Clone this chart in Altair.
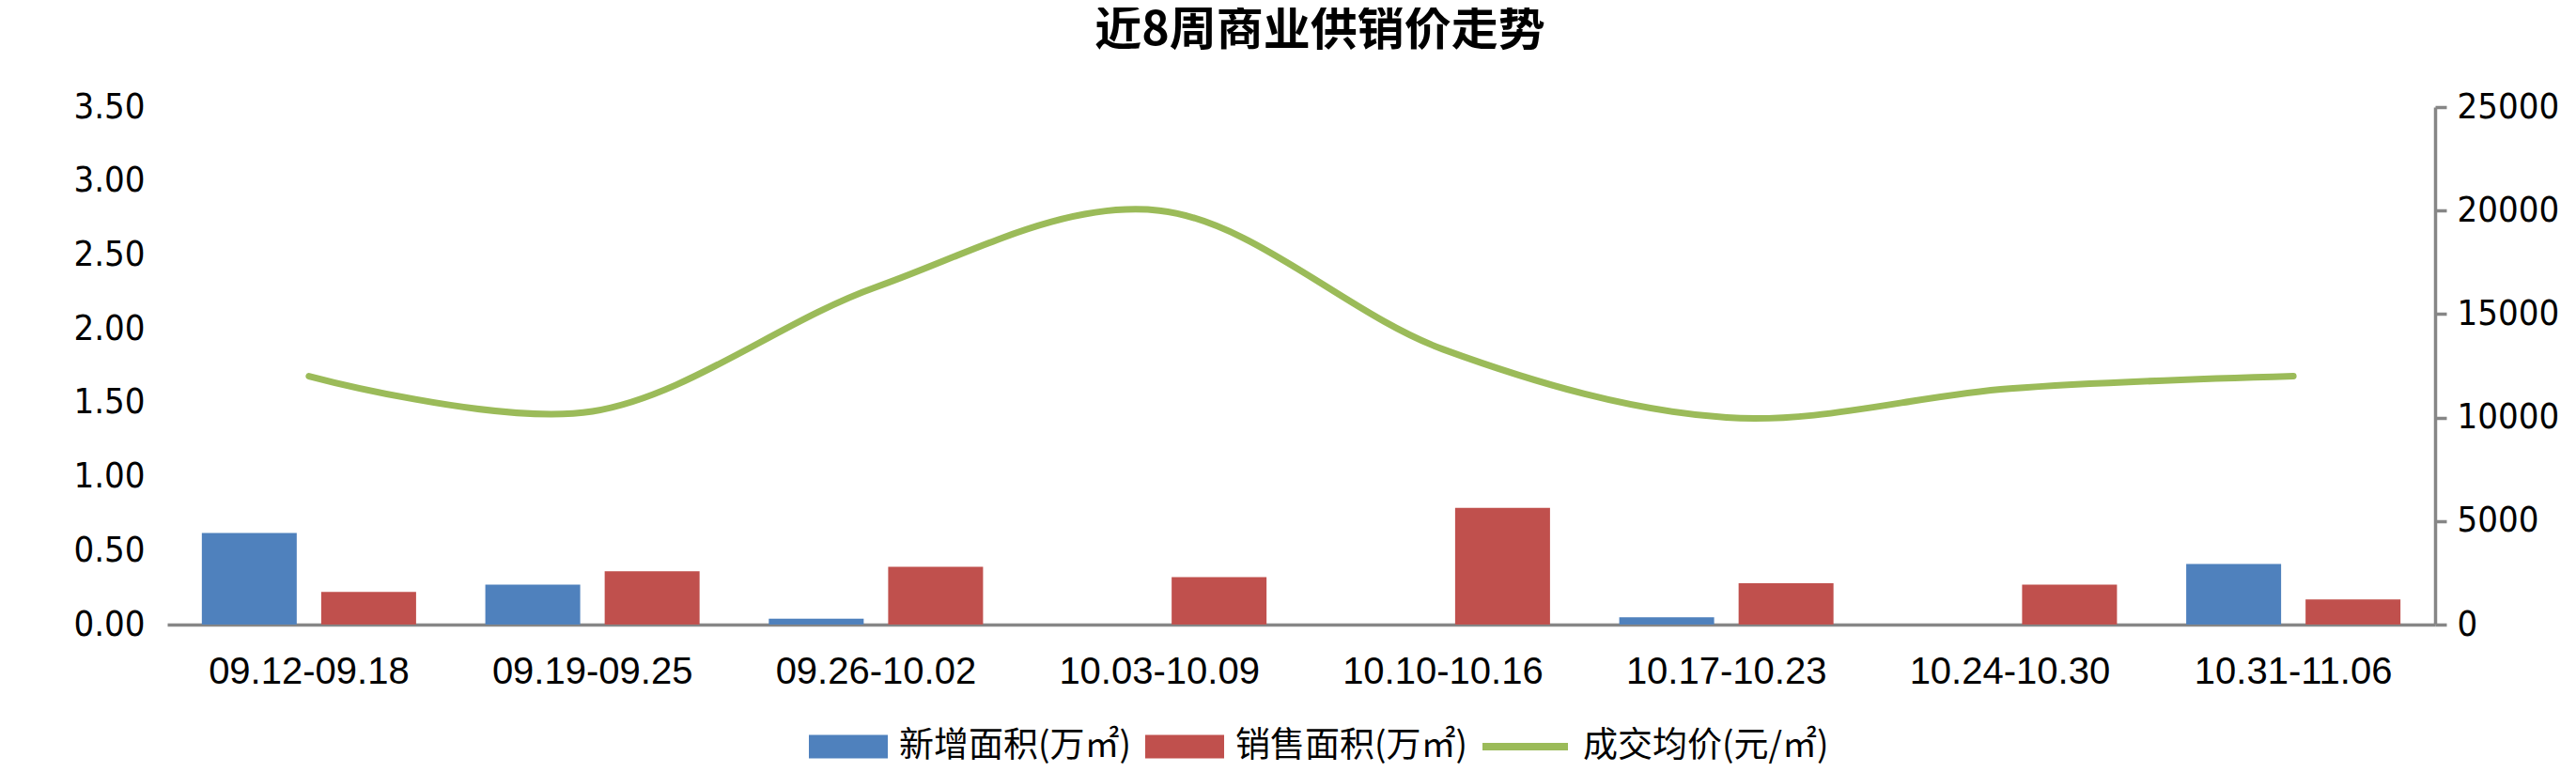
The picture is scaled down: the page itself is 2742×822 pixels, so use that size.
import altair as alt
import pandas as pd

weeks = ["09.12-09.18", "09.19-09.25", "09.26-10.02", "10.03-10.09",
         "10.10-10.16", "10.17-10.23", "10.24-10.30", "10.31-11.06"]
new_area = [0.62, 0.27, 0.04, 0.0, 0.0, 0.05, 0.0, 0.41]
sold_area = [0.22, 0.36, 0.39, 0.32, 0.79, 0.28, 0.27, 0.17]
avg_price = [12000, 10300, 16300, 20000, 13300, 10000, 11400, 12000]
series_names = ["新增面积(万㎡)", "销售面积(万㎡)", "成交均价(元/㎡)"]
left_ticks = [0, 0.5, 1.0, 1.5, 2.0, 2.5, 3.0, 3.5]
right_ticks = [0, 5000, 10000, 15000, 20000, 25000]
title_text = "近8周商业供销价走势"

bars_df = pd.DataFrame({
    "week": weeks * 2,
    "series": [series_names[0]] * len(weeks) + [series_names[1]] * len(weeks),
    "value": new_area + sold_area,
})
line_df = pd.DataFrame({"week": weeks, "series": [series_names[2]] * len(weeks), "price": avg_price})

num_font = "DejaVu Sans Condensed, DejaVu Sans"
cat_font = "Liberation Sans, Arial, sans-serif"
cjk_font = "Noto Sans CJK SC"
gray = "#868686"

x_enc = alt.X(
    "week:N", sort=weeks,
    scale=alt.Scale(paddingInner=0, paddingOuter=0),
    axis=alt.Axis(title=None, labelAngle=0, labelFont=cat_font, labelFontSize=40,
                  labelColor="black", ticks=False, tickSize=0, labelPadding=30,
                  labelLimit=400, domainColor=gray, domainWidth=3.5, grid=False),
)

bars = alt.Chart(bars_df).mark_bar().encode(
    x=x_enc,
    xOffset=alt.XOffset("series:N", sort=series_names[:2],
                        scale=alt.Scale(paddingInner=0.205, paddingOuter=0.29)),
    y=alt.Y("value:Q", scale=alt.Scale(domain=[0, 3.5], nice=False),
            axis=alt.Axis(values=left_ticks, format=".2f", title=None, domain=False,
                          ticks=False, tickSize=0, grid=False, labelPadding=24,
                          labelFont=num_font, labelFontSize=38, labelColor="black")),
    color=alt.Color("series:N",
                    scale=alt.Scale(domain=series_names[:2], range=["#4F81BD", "#C0504D"]),
                    legend=alt.Legend(title=None, orient="none", legendX=683, legendY=639,
                                      direction="horizontal",
                                      symbolType="M-1,-0.298L1,-0.298L1,0.298L-1,0.298Z",
                                      symbolSize=7056, symbolStrokeWidth=0,
                                      labelFont=cjk_font, labelFontSize=37, labelColor="black",
                                      labelOffset=12, columnPadding=14, padding=0,
                                      labelLimit=500)),
)

line = alt.Chart(line_df).mark_line(interpolate="cardinal", strokeWidth=7, strokeCap="round").encode(
    x=x_enc,
    y=alt.Y("price:Q", scale=alt.Scale(domain=[0, 25000], nice=False),
            axis=alt.Axis(orient="right", values=right_ticks, format="d", title=None,
                          domainColor=gray, domainWidth=3.5, tickColor=gray, tickWidth=3.5,
                          tickSize=12, labelPadding=11, grid=False,
                          labelFont=num_font, labelFontSize=38, labelColor="black")),
    stroke=alt.Stroke("series:N",
                      scale=alt.Scale(domain=[series_names[2]], range=["#9BBB59"]),
                      legend=alt.Legend(title=None, orient="none", legendX=1396, legendY=631.5,
                                        direction="horizontal", symbolType="stroke",
                                        symbolSize=8281, symbolStrokeWidth=8,
                                        labelFont=cjk_font, labelFontSize=37, labelColor="black",
                                        labelOffset=12, padding=0, labelLimit=500)),
)

chart = alt.layer(bars, line).resolve_scale(y="independent").properties(
    width=2414, height=551,
    autosize=alt.AutoSizeParams(type="none"),
    padding={"left": 170, "top": 106, "right": 140, "bottom": 149},
    title=alt.TitleParams(title_text, font=cjk_font, fontSize=50, fontWeight="bold",
                          color="black", anchor="middle", offset=37, dx=20),
    background="white",
).configure_view(stroke=None)

chart.save("out.html", embed_options={"renderer": "svg", "actions": False})
